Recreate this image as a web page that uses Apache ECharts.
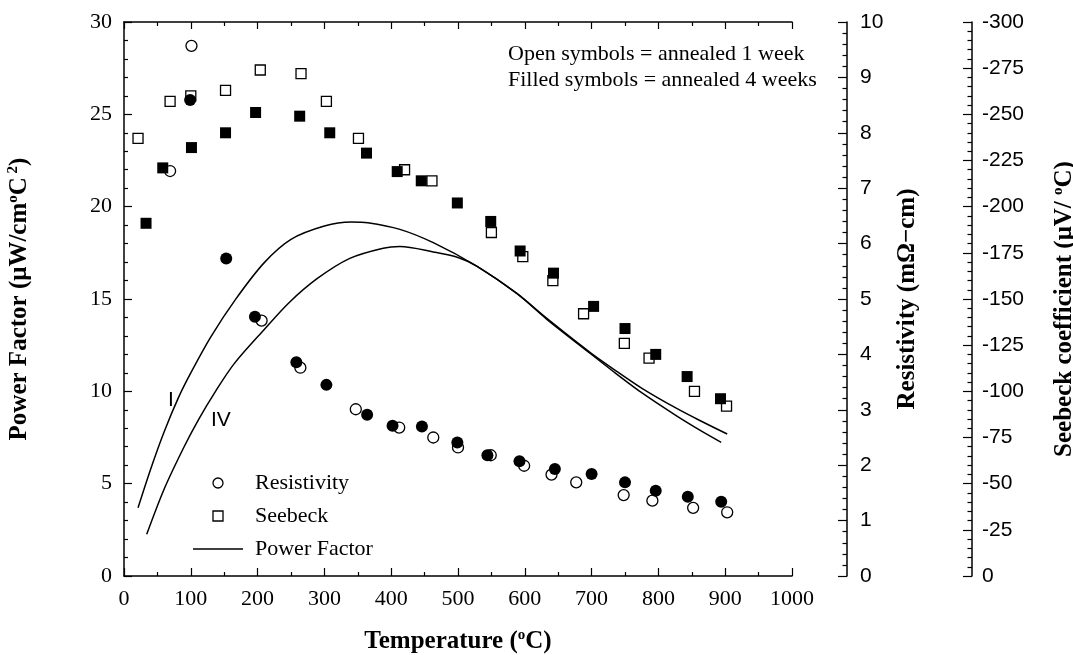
<!DOCTYPE html>
<html><head><meta charset="utf-8">
<script src="https://cdn.jsdelivr.net/npm/echarts@6/dist/echarts.min.js"></script>
<style>html,body{margin:0;padding:0;background:#fff}#c{width:1073px;height:655px}</style>
</head><body><div id="c"></div>
<script>
// ---- data ----
// Resistivity (mΩ-cm), open = annealed 1 week, filled = annealed 4 weeks
const tempResOpen = [69, 101, 206, 264, 347, 412, 463, 500, 549, 599, 640, 677, 748, 791, 852, 903];
const resOpen     = [7.31, 9.57, 4.61, 3.76, 3.01, 2.68, 2.50, 2.32, 2.18, 1.99, 1.83, 1.69, 1.46, 1.36, 1.23, 1.15];
const tempResFilled = [99, 153, 196, 258, 303, 364, 402, 446, 499, 544, 592, 645, 700, 750, 796, 844, 894];
const resFilled     = [8.59, 5.73, 4.68, 3.86, 3.45, 2.91, 2.71, 2.70, 2.41, 2.18, 2.07, 1.93, 1.84, 1.69, 1.54, 1.43, 1.34];
// Seebeck coefficient (μV/°C)
const tempSeeOpen = [21, 69, 100, 152, 204, 265, 303, 351, 420, 461, 550, 597, 642, 688, 749, 786, 854, 902];
const seeOpen     = [-237, -257, -260, -263, -274, -272, -257, -237, -220, -214, -186, -173, -160, -142, -126, -118, -100, -92];
const tempSeeFilled = [33, 58, 101, 152, 197, 263, 308, 363, 409, 445, 499, 549, 593, 643, 703, 750, 796, 843, 893];
const seeFilled     = [-191, -221, -232, -240, -251, -249, -240, -229, -219, -214, -202, -192, -176, -164, -146, -134, -120, -108, -96];
// Power factor curves (μW/cm°C²): curve I (1 week) and curve IV (4 weeks)
const pfTempI = [21, 40, 60, 82, 100, 130, 167, 210, 250, 300, 340, 365, 413, 463, 528, 588, 633, 698, 737, 776, 826, 862, 903];
const pfI     = [3.7, 5.8, 7.8, 9.7, 11.0, 12.95, 14.98, 16.97, 18.23, 18.95, 19.17, 19.13, 18.77, 18.05, 16.78, 15.3, 13.95, 12.1, 11.1, 10.15, 9.1, 8.42, 7.69];
const pfTempIV = [34, 60, 90, 112, 137, 165, 210, 247, 289, 338, 388, 413, 463, 500, 528, 588, 633, 698, 737, 776, 826, 862, 894];
const pfIV     = [2.26, 4.7, 7.0, 8.5, 10.0, 11.5, 13.35, 14.8, 16.1, 17.2, 17.75, 17.84, 17.55, 17.25, 16.78, 15.3, 13.9, 12.05, 10.95, 9.9, 8.7, 7.9, 7.24];
// axis ranges / ticks
const tempRange = [0, 1000, 100];
const pfRange = [0, 30, 5];
const resRange = [0, 10, 1];
const seeRange = [-300, 0, 25];
const annotLines = ['Open symbols = annealed 1 week', 'Filled symbols = annealed 4 weeks'];
const curveLabels = ['I', 'IV'];

const zip = (a, b) => a.map((v, i) => [v, b[i]]);
const SERIF = 'Liberation Serif';
const SANS = 'Liberation Sans';
const sup = { fontSize: 15, fontFamily: SERIF, fontWeight: 'bold', color: '#000', verticalAlign: 'top', lineHeight: 27 };
const nameStyle = { fontFamily: SERIF, fontWeight: 'bold', fontSize: 25, color: '#000', lineHeight: 27, rich: { s: sup } };
const lineBlack = { color: '#000', width: 1.5 };
const tickStyle = { color: '#000', width: 1.2 };
const plain = v => String(v);

const chart = echarts.init(document.getElementById('c'));
chart.setOption({
  animation: false,
  backgroundColor: '#fff',
  grid: { left: 124, right: 281, top: 22, bottom: 79, containLabel: false, outerBoundsMode: 'none' },
  xAxis: [{
    type: 'value', position: 'bottom', min: tempRange[0], max: tempRange[1], interval: tempRange[2],
    axisLine: { onZero: false, lineStyle: lineBlack },
    axisTick: { show: true, inside: true, length: 8, lineStyle: tickStyle },
    minorTick: { show: true, splitNumber: 2, length: 4, lineStyle: tickStyle },
    splitLine: { show: false },
    axisLabel: { fontFamily: SERIF, fontSize: 22, color: '#000', margin: 12, formatter: plain },
    name: 'Temperature ({s|o}C)', nameLocation: 'middle', nameGap: 52, nameTextStyle: nameStyle
  }, {
    type: 'value', position: 'top', min: tempRange[0], max: tempRange[1], interval: tempRange[2],
    axisLine: { onZero: false, lineStyle: lineBlack },
    axisTick: { show: true, inside: true, length: 7, lineStyle: tickStyle },
    minorTick: { show: true, splitNumber: 2, length: 4, lineStyle: tickStyle },
    splitLine: { show: false },
    axisLabel: { show: false }
  }],
  yAxis: [{
    type: 'value', position: 'left', min: pfRange[0], max: pfRange[1], interval: pfRange[2],
    axisLine: { show: true, onZero: false, lineStyle: lineBlack },
    axisTick: { show: true, inside: true, length: 8, lineStyle: tickStyle },
    minorTick: { show: true, splitNumber: 5, length: 4, lineStyle: tickStyle },
    splitLine: { show: false },
    axisLabel: { fontFamily: SERIF, fontSize: 22, color: '#000', margin: 12, formatter: plain },
    name: 'Power Factor (μW/cm{s|o}C{s| 2})', nameLocation: 'middle', nameRotate: 90, nameGap: 91, nameTextStyle: nameStyle
  }, {
    type: 'value', position: 'right', offset: 55, min: resRange[0], max: resRange[1], interval: resRange[2],
    axisLine: { show: true, onZero: false, lineStyle: lineBlack },
    axisTick: { show: true, inside: true, length: 9, lineStyle: tickStyle },
    minorTick: { show: true, splitNumber: 5, length: 4.5, lineStyle: tickStyle },
    splitLine: { show: false },
    axisLabel: { fontFamily: SANS, fontSize: 21, color: '#000', margin: 13, formatter: plain },
    name: 'Resistivity (mΩ−cm)', nameLocation: 'middle', nameRotate: 90, nameGap: 47, nameTextStyle: nameStyle
  }, {
    type: 'value', position: 'right', offset: 180, min: seeRange[0], max: seeRange[1], interval: seeRange[2], inverse: true,
    axisLine: { show: true, onZero: false, lineStyle: lineBlack },
    axisTick: { show: true, inside: true, length: 9, lineStyle: tickStyle },
    minorTick: { show: true, splitNumber: 5, length: 4.5, lineStyle: tickStyle },
    splitLine: { show: false },
    axisLabel: { fontFamily: SANS, fontSize: 21, color: '#000', margin: 10, formatter: plain },
    name: 'Seebeck coefficient (μV/ {s|o}C)', nameLocation: 'middle', nameRotate: 90, nameGap: 79,
    nameTextStyle: Object.assign({}, nameStyle, { padding: [0, 20, 0, 0] })
  }],
  legend: {
    orient: 'vertical', left: 188, top: 467, itemWidth: 50, itemHeight: 10, itemGap: 11,
    selectedMode: false, symbolKeepAspect: true,
    textStyle: { fontFamily: SERIF, fontSize: 22, color: '#000', padding: [0, 0, 0, 7] },
    data: [
      { name: 'Resistivity', icon: 'circle', itemStyle: { color: '#fff', borderColor: '#000', borderWidth: 1.3 } },
      { name: 'Seebeck', icon: 'path://M0,0H10V10H0Z', itemStyle: { color: '#fff', borderColor: '#000', borderWidth: 1.3 } },
      { name: 'Power Factor', icon: 'path://M0,0H50V1.5H0Z', itemStyle: { color: '#000', borderWidth: 0 } }
    ]
  },
  graphic: [
    { type: 'text', left: 508, top: 43, style: { text: annotLines[0], font: '22px "Liberation Serif"', fill: '#000' } },
    { type: 'text', left: 508, top: 69, style: { text: annotLines[1], font: '22px "Liberation Serif"', fill: '#000' } },
    { type: 'text', left: 168, top: 390, style: { text: curveLabels[0], font: '21px "Liberation Sans"', fill: '#000' } },
    { type: 'text', left: 211, top: 410, style: { text: curveLabels[1], font: '21px "Liberation Sans"', fill: '#000' } }
  ],
  series: [
    { name: 'Power Factor', type: 'line', xAxisIndex: 0, yAxisIndex: 0, data: zip(pfTempI, pfI), smooth: 0.3, symbol: 'none', lineStyle: lineBlack, itemStyle: { color: '#000' }, z: 1 },
    { name: 'Power Factor', type: 'line', xAxisIndex: 0, yAxisIndex: 0, data: zip(pfTempIV, pfIV), smooth: 0.3, symbol: 'none', lineStyle: lineBlack, itemStyle: { color: '#000' }, z: 1 },
    { name: 'Resistivity', type: 'scatter', xAxisIndex: 0, yAxisIndex: 1, data: zip(tempResOpen, resOpen), symbol: 'circle', symbolSize: 11, itemStyle: { color: '#fff', borderColor: '#000', borderWidth: 1.3, opacity: 1 }, z: 3 },
    { name: 'Resistivity', type: 'scatter', xAxisIndex: 0, yAxisIndex: 1, data: zip(tempResFilled, resFilled), symbol: 'circle', symbolSize: 12, itemStyle: { color: '#000', opacity: 1 }, z: 4 },
    { name: 'Seebeck', type: 'scatter', xAxisIndex: 0, yAxisIndex: 2, data: zip(tempSeeOpen, seeOpen), symbol: 'rect', symbolSize: 10, itemStyle: { color: '#fff', borderColor: '#000', borderWidth: 1.3, opacity: 1 }, z: 3 },
    { name: 'Seebeck', type: 'scatter', xAxisIndex: 0, yAxisIndex: 2, data: zip(tempSeeFilled, seeFilled), symbol: 'rect', symbolSize: 11, itemStyle: { color: '#000', opacity: 1 }, z: 4 }
  ]
});
</script></body></html>
